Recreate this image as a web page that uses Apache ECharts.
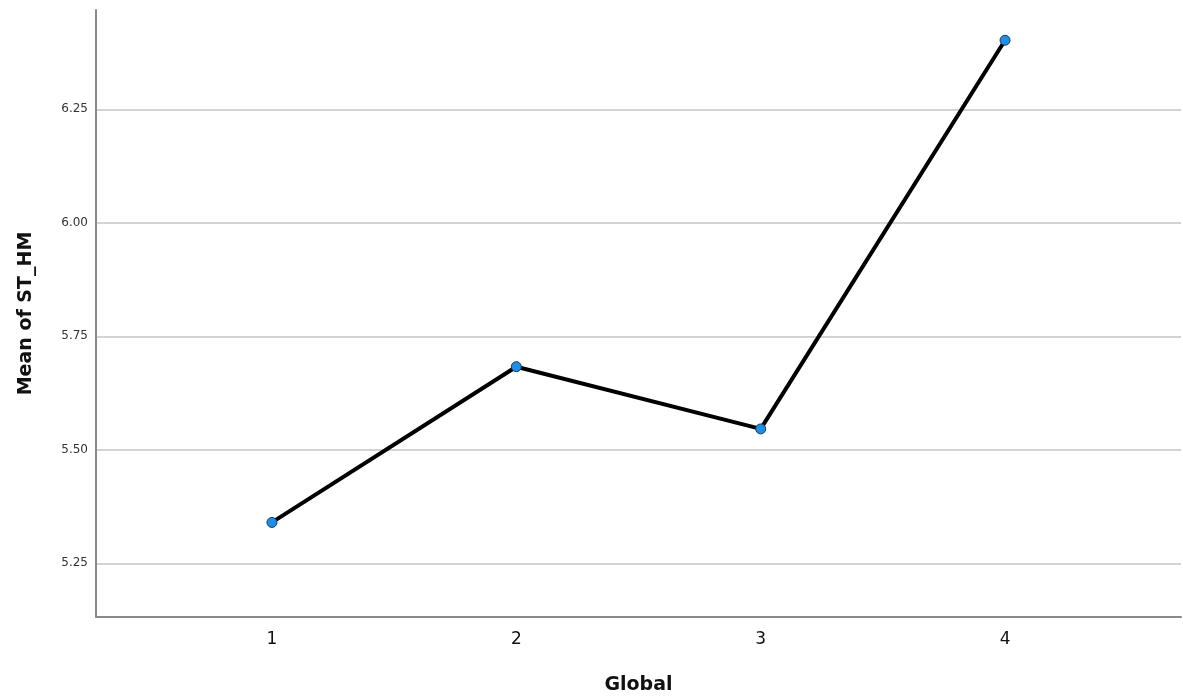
<!DOCTYPE html>
<html>
<head>
<meta charset="utf-8">
<script src="https://cdn.jsdelivr.net/npm/echarts@6/dist/echarts.min.js"></script>
<style>html,body{margin:0;padding:0;background:#fff}#c{width:1183px;height:700px}</style>
</head>
<body>
<div id="c"></div>
<script>
const categories = [1, 2, 3, 4];
const meanValues = [5.340, 5.683, 5.546, 6.402];
const yTicks = [5.25, 5.50, 5.75, 6.00, 6.25];
const xTitle = 'Global';
const yTitle = 'Mean of ST_HM';

const chart = echarts.init(document.getElementById('c'), null, {renderer: 'canvas'});
chart.setOption({
  backgroundColor: '#ffffff',
  animation: false,
  grid: {left: 96, right: 2, top: 10, bottom: 83, containLabel: false},
  xAxis: {
    type: 'value',
    min: 0.28, max: 4.72,
    name: xTitle,
    nameLocation: 'middle',
    nameGap: 59,
    nameTextStyle: {fontFamily: 'DejaVu Sans', fontWeight: 'bold', fontSize: 19, color: '#111'},
    axisLine: {show: true, onZero: false, lineStyle: {color: '#8a8a8a', width: 2}},
    axisTick: {show: false, customValues: categories},
    splitLine: {show: false},
    axisLabel: {customValues: categories, fontFamily: 'DejaVu Sans', fontSize: 17, color: '#111', margin: 14,
      formatter: v => String(v)}
  },
  yAxis: {
    type: 'value',
    min: 5.1317, max: 6.4687,
    name: yTitle,
    nameLocation: 'middle',
    nameGap: 60,
    nameTextStyle: {fontFamily: 'DejaVu Sans', fontWeight: 'bold', fontSize: 19, color: '#111'},
    axisLine: {show: true, lineStyle: {color: '#8a8a8a', width: 2}},
    axisTick: {show: false, customValues: yTicks},
    axisLabel: {customValues: yTicks, fontFamily: 'DejaVu Sans', fontSize: 12, color: '#333', margin: 8,
      formatter: v => v.toFixed(2)},
    splitLine: {show: true, lineStyle: {color: '#c4c4c4', width: 1.5}}
  },
  series: [{
    type: 'line',
    data: categories.map((c, i) => [c, meanValues[i]]),
    symbol: 'circle',
    symbolSize: 10,
    lineStyle: {color: '#000', width: 4},
    itemStyle: {color: '#1e8ee6', borderColor: '#1a3a5a', borderWidth: 1},
    z: 5
  }]
});
</script>
</body>
</html>
